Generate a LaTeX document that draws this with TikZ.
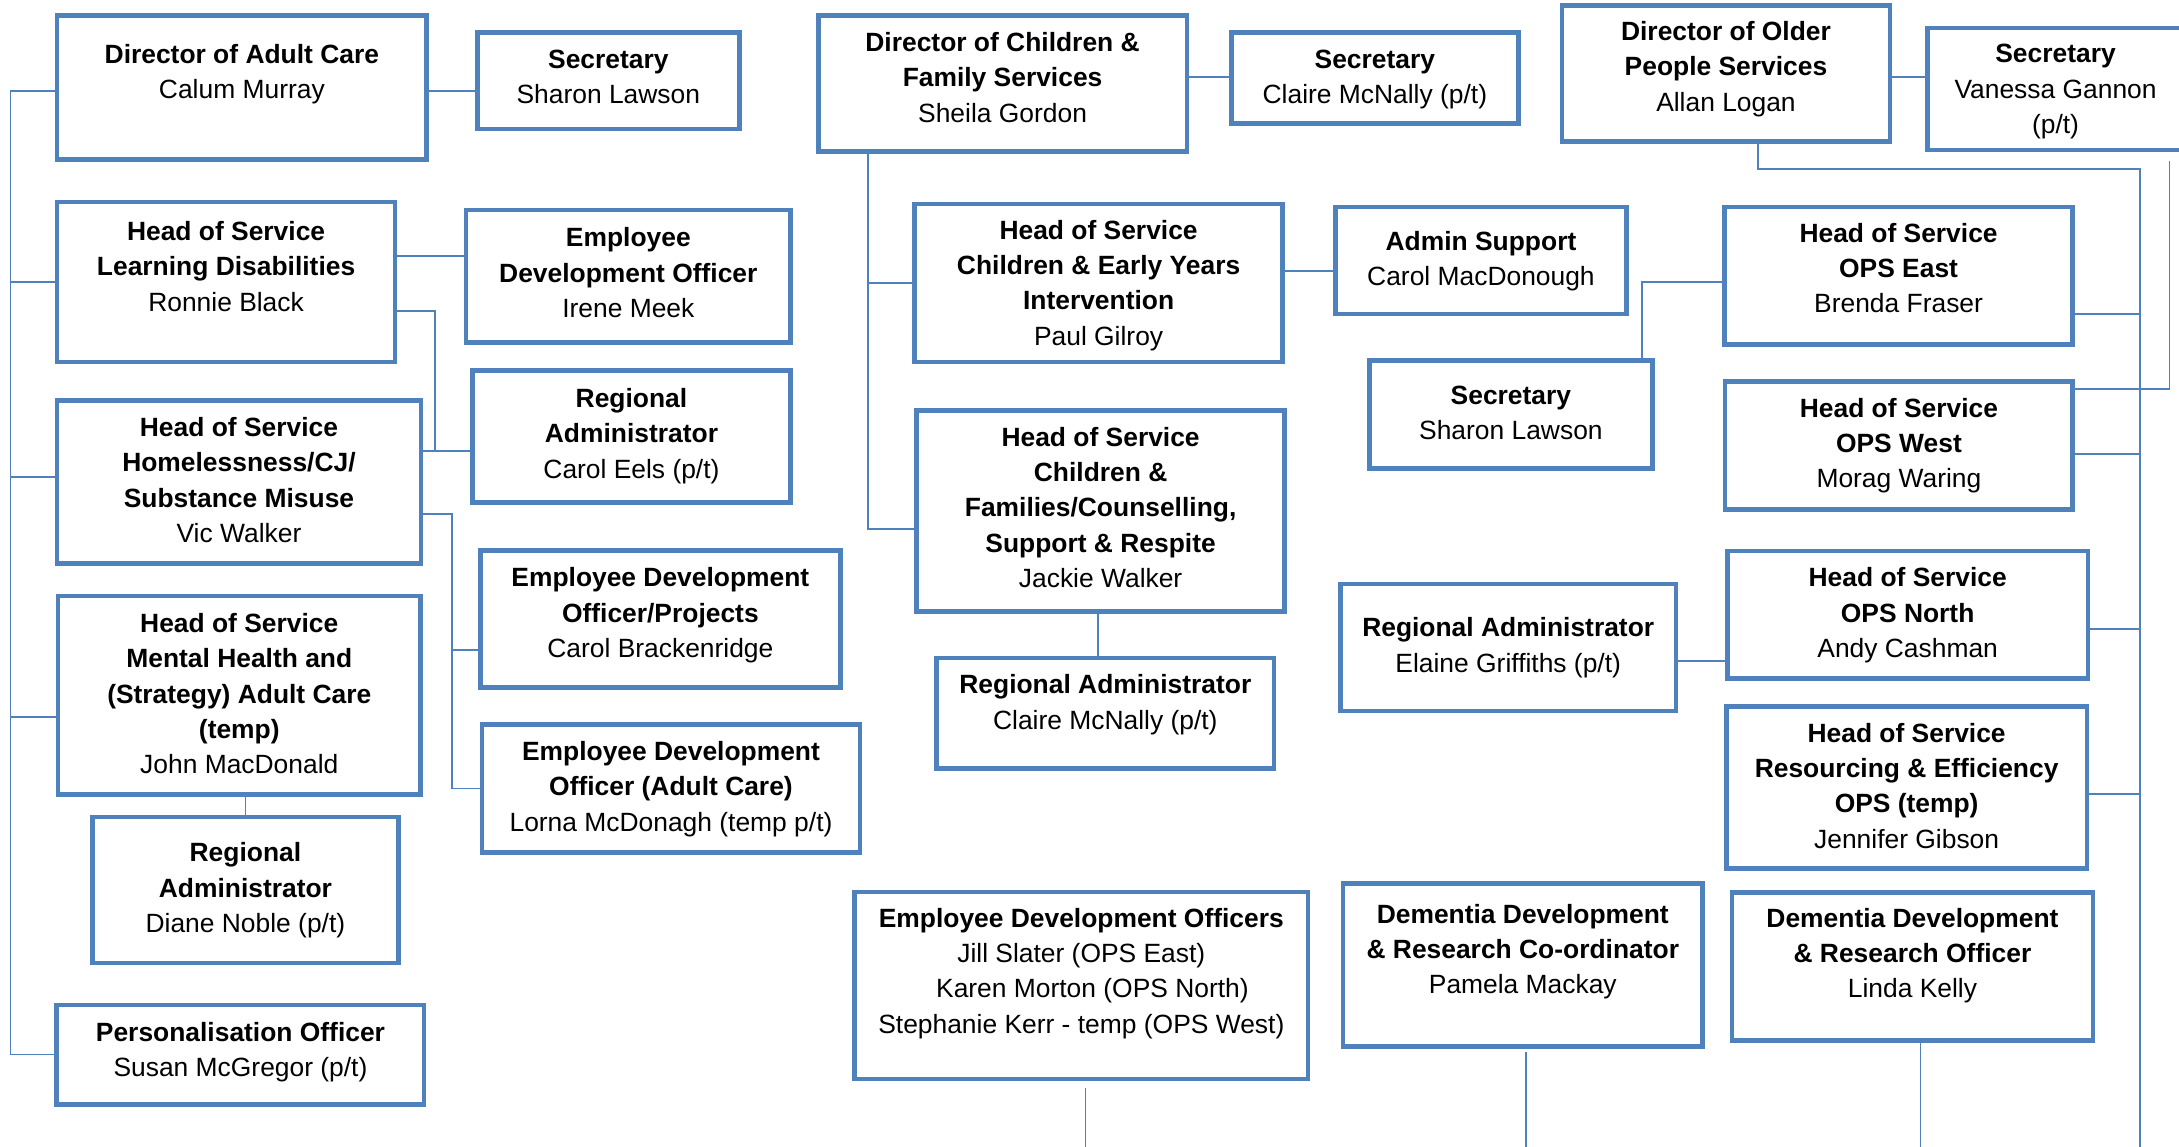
\documentclass[tikz,border=0pt]{standalone}
\usepackage{fontspec}
\setmainfont{Liberation Sans}
\definecolor{bxblue}{HTML}{4F81BD}
\tikzset{
  box/.style={draw=bxblue, line width=3.3pt, inner sep=0pt},
  conn/.style={draw=bxblue, line width=1.3pt},
  txt/.style={align=center, inner sep=0pt, font=\fontsize{19}{25.4}\selectfont, text=black},
}
% name, x1, y1, x2, y2, first baseline, text
\newcommand\bx[7]{%
  \node[box, minimum width={(#4-#2-3.3)*1pt}, minimum height={(#5-#3-3.3)*1pt}] (#1) at ({(#2+#4)/2},{(#3+#5)/2}) {};
  \node[txt, anchor=north] (#1t) at ({(#2+#4)/2},{#6-17.78}) {\strut #7};
}
\begin{document}
\begin{tikzpicture}[x=1pt,y=-1pt]
\path[fill=white, use as bounding box] (0,0) rectangle (1568,825);

% ---------- Adult Care ----------
\bx{dirA}{39.4}{9.3}{308.7}{116.3}{45.6}{\textbf{Director of Adult Care}\\Calum Murray}
\bx{secA}{341.8}{21.8}{533.7}{94.5}{49.2}{\textbf{Secretary}\\Sharon Lawson}
\bx{ld}{39.4}{143.7}{286}{262.2}{173}{\textbf{Head of Service}\\\textbf{Learning Disabilities}\\Ronnie Black}
\bx{edoA}{333.8}{149.6}{570.5}{248.1}{177.5}{\textbf{Employee}\\\textbf{Development Officer}\\Irene Meek}
\bx{raA}{338.3}{264.8}{570.5}{363.3}{293}{\textbf{Regional}\\\textbf{Administrator}\\Carol Eels (p/t)}
\bx{hl}{39.4}{286.7}{304.5}{407.2}{314}{\textbf{Head of Service}\\\textbf{Homelessness/CJ/}\\\textbf{Substance Misuse}\\Vic Walker}
\bx{edoP}{344}{394.3}{606.4}{496.5}{422}{\textbf{Employee Development}\\\textbf{Officer/Projects}\\Carol Brackenridge}
\bx{mh}{40}{427.2}{304.4}{573.5}{455}{\textbf{Head of Service}\\\textbf{Mental Health and}\\\textbf{(Strategy) Adult Care}\\\textbf{(temp)}\\John MacDonald}
\bx{edoAC}{345.3}{519.6}{620.4}{615.2}{547}{\textbf{Employee Development}\\\textbf{Officer (Adult Care)}\\Lorna McDonagh (temp p/t)}
\bx{raD}{64.9}{586.2}{288.3}{694.5}{620}{\textbf{Regional}\\\textbf{Administrator}\\Diane Noble (p/t)}
\bx{pers}{39.2}{721.4}{306.9}{796.3}{749}{\textbf{Personalisation Officer}\\Susan McGregor (p/t)}

% ---------- Children & Family ----------
\bx{dirC}{587.2}{9.3}{855.7}{110.5}{37}{\textbf{Director of Children \&}\\\textbf{Family Services}\\Sheila Gordon}
\bx{secC}{884.4}{21.8}{1094.3}{90.5}{49}{\textbf{Secretary}\\Claire McNally (p/t)}
\bx{ceyi}{656.6}{145}{924.5}{262.2}{172}{\textbf{Head of Service}\\\textbf{Children \& Early Years}\\\textbf{Intervention}\\Paul Gilroy}
\bx{adm}{959.4}{147.2}{1172}{227.6}{180}{\textbf{Admin Support}\\Carol MacDonough}
\bx{secS}{983.7}{257.6}{1190.8}{338.6}{291}{\textbf{Secretary}\\Sharon Lawson}
\bx{cf}{658}{293.6}{926}{441.5}{321}{\textbf{Head of Service}\\\textbf{Children \&}\\\textbf{Families/Counselling,}\\\textbf{Support \& Respite}\\Jackie Walker}
\bx{raC}{672.3}{471.7}{918.5}{554.6}{499}{\textbf{Regional Administrator}\\Claire McNally (p/t)}
\bx{raE}{962.8}{418.6}{1207.8}{513.4}{458}{\textbf{Regional Administrator}\\Elaine Griffiths (p/t)}
\bx{edos}{613.3}{640.1}{942.9}{778}{667}{\textbf{Employee Development Officers}\\Jill Slater (OPS East)\\\hspace*{16pt}Karen Morton (OPS North)\\Stephanie Kerr - temp (OPS West)}
\bx{ddc}{964.7}{634.1}{1226.9}{754.5}{664}{\textbf{Dementia Development}\\\textbf{\& Research Co-ordinator}\\Pamela Mackay}

% ---------- Older People ----------
\bx{dirO}{1122.2}{2.1}{1361.8}{103.3}{29}{\textbf{Director of Older}\\\textbf{People Services}\\Allan Logan}
\bx{secV}{1385.3}{18.6}{1573}{109.7}{45}{\textbf{Secretary}\\Vanessa Gannon\\(p/t)}
\bx{opsE}{1239.2}{147.2}{1493.2}{249.4}{174}{\textbf{Head of Service}\\\textbf{OPS East}\\Brenda Fraser}
\bx{opsW}{1239.7}{272.8}{1493.2}{368.1}{300}{\textbf{Head of Service}\\\textbf{OPS West}\\Morag Waring}
\bx{opsN}{1241.5}{394.7}{1504}{489.7}{422}{\textbf{Head of Service}\\\textbf{OPS North}\\Andy Cashman}
\bx{res}{1240.6}{506.7}{1503.4}{626.5}{534}{\textbf{Head of Service}\\\textbf{Resourcing \& Efficiency}\\\textbf{OPS (temp)}\\Jennifer Gibson}
\bx{ddo}{1244.8}{640.6}{1507.6}{750.5}{667}{\textbf{Dementia Development}\\\textbf{\& Research Officer}\\Linda Kelly}

% ---------- connectors: Adult Care ----------
\coordinate (spX) at (7.5,0);
\draw[conn] (dirA.west |- 0,65.7) -| (spX |- pers.west) -- (pers.west);
\draw[conn] (ld.west) -- (spX |- ld.west);
\draw[conn] (hl.west |- 0,343.4) -- (spX |- 0,343.4);
\draw[conn] (mh.west |- 0,516.1) -- (spX |- 0,516.1);
\draw[conn] (dirA.east |- 0,65.7) -- (secA.west |- 0,65.7);
\draw[conn] (ld.east |- 0,184.2) -- (edoA.west |- 0,184.2);
\coordinate (j1) at (313.2,324.5);
\draw[conn] (ld.east |- 0,223.6) -| (j1);
\draw[conn] (hl.east |- j1) -- (raA.west |- j1);
\coordinate (j2) at (325,0);
\draw[conn] (hl.east |- 0,370) -| (j2 |- edoAC.west) -- (edoAC.west);
\draw[conn] (edoP.west |- 0,467.6) -- (j2 |- 0,467.6);
\draw[conn] (mh.south -| raD.north) -- (raD.north);

% ---------- connectors: Children ----------
\coordinate (j3) at (624.5,0);
\draw[conn] (dirC.south -| j3) |- (cf.west |- 0,380.6);
\draw[conn] (ceyi.west) -- (j3 |- ceyi.west);
\draw[conn] (dirC.east |- 0,55.4) -- (secC.west |- 0,55.4);
\draw[conn] (ceyi.east |- 0,194.8) -- (adm.west |- 0,194.8);
\coordinate (j4) at (790,0);
\draw[conn] (cf.south -| j4) -- (raC.north -| j4);
\coordinate (j5) at (1181.5,0);
\draw[conn] (secS.north -| j5) |- (opsE.west |- 0,202.8);
\draw[conn] (raE.east |- 0,475.7) -- (opsN.west |- 0,475.7);

% ---------- connectors: Older People ----------
\coordinate (bus) at (1540,826);
\draw[conn] (dirO.south -| 1265,0) |- (bus |- 0,121.6) -- (bus);
\draw[conn] (dirO.east |- 0,55.4) -- (secV.west |- 0,55.4);
\draw[conn] (opsE.east |- 0,225.7) -- (bus |- 0,225.7);
\draw[conn] (opsW.east |- 0,326.9) -- (bus |- 0,326.9);
\draw[conn] (opsN.east |- 0,452.8) -- (bus |- 0,452.8);
\draw[conn] (res.east |- 0,571.3) -- (bus |- 0,571.3);
\coordinate (j6) at (1561.2,0);
\draw[conn] (secV.south -| j6) ++(0,6) |- (opsW.east |- 0,280);

% ---------- dangling lines to lower page ----------
\coordinate (b1) at (781.1,826);
\draw[conn] (edos.south -| b1) ++(0,4.8) -- (b1);
\coordinate (b2) at (1098.2,826);
\draw[conn] (ddc.south -| b2) ++(0,2.5) -- (b2);
\coordinate (b3) at (1382,826);
\draw[conn] (ddo.south -| b3) -- (b3);
\end{tikzpicture}
\end{document}
